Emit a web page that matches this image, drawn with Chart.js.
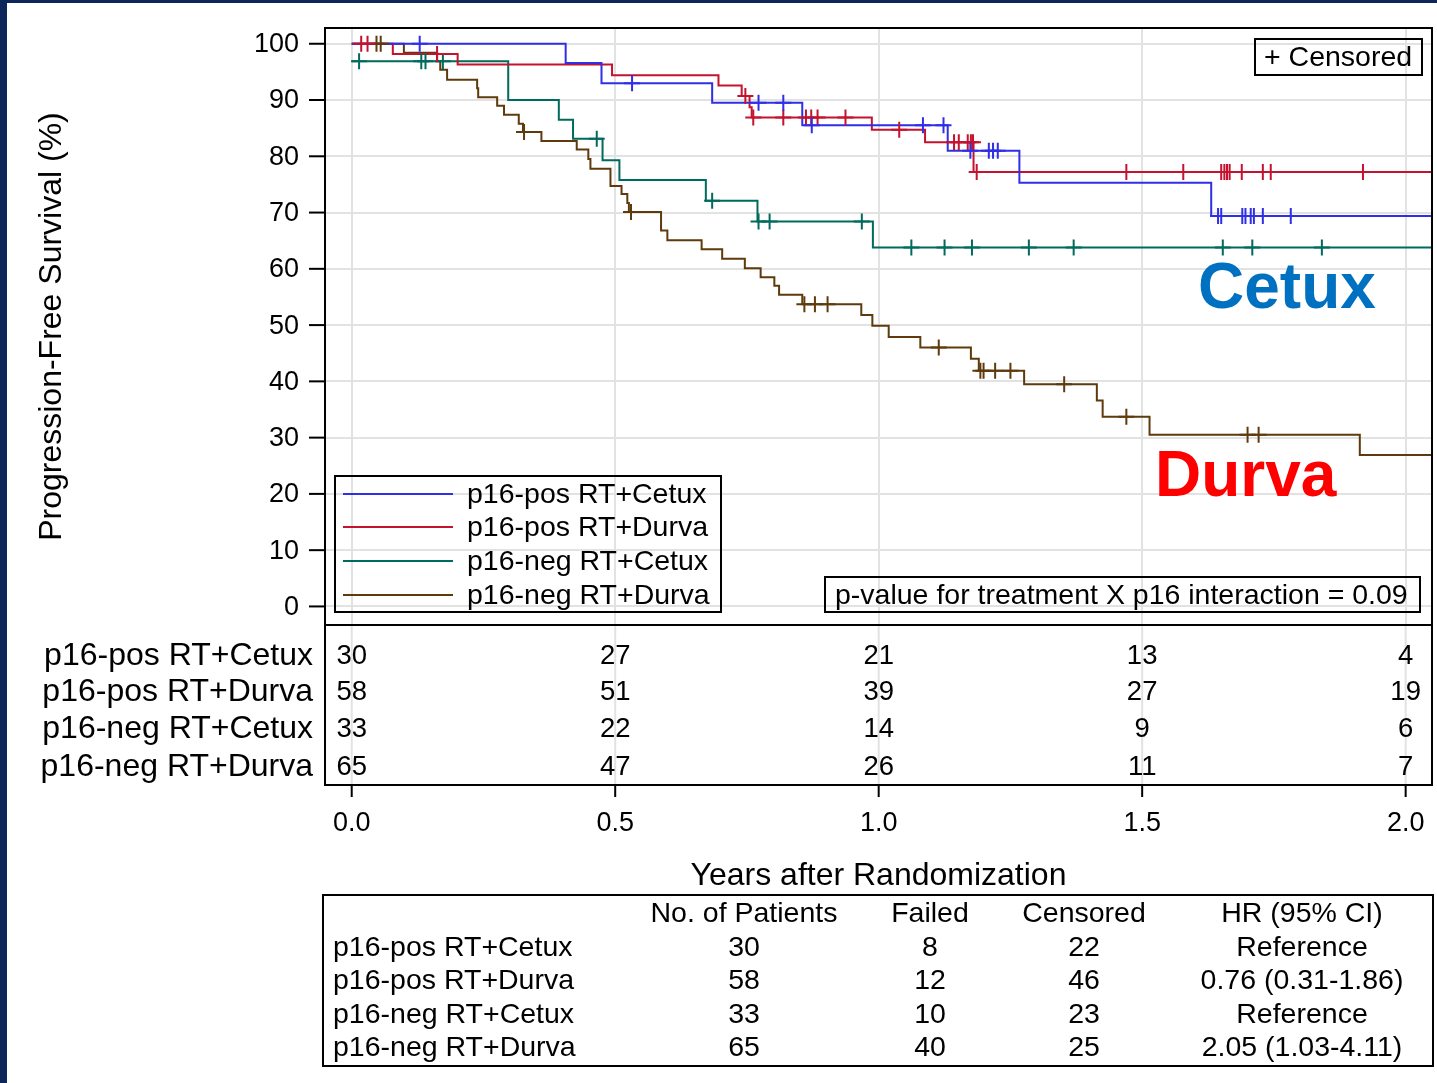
<!DOCTYPE html>
<html>
<head>
<meta charset="utf-8">
<script src="https://cdn.jsdelivr.net/npm/chart.js@4.4.1/dist/chart.umd.min.js"></script>
<style>
html,body{margin:0;padding:0;background:#fff;}
canvas{display:block;}
</style>
</head>
<body>
<canvas id="c" width="1437" height="1083"></canvas>
<script>
// ---------- DATA ----------
const groupLabels = ['p16-pos RT+Cetux', 'p16-pos RT+Durva', 'p16-neg RT+Cetux', 'p16-neg RT+Durva'];
const groupColors = ['#2f2fe6', '#c4122f', '#006a5c', '#5e3a0c'];

const timeTicks = [0, 0.5, 1.0, 1.5, 2.0];
const survTicks = [0, 10, 20, 30, 40, 50, 60, 70, 80, 90, 100];
const plotEndTime = 2.06;

// p16-pos RT+Cetux
const posCetuxTimes = [0, 0.406, 0.474, 0.684, 0.855, 1.131, 1.267, 1.631];
const posCetuxSurv  = [100, 96.6, 93.0, 89.5, 85.5, 81.0, 75.3, 69.4];
const posCetuxCens  = [0.129, 0.532, 0.772, 0.819, 0.873, 1.084, 1.123, 1.174, 1.209, 1.217, 1.226,
                       1.644, 1.650, 1.690, 1.696, 1.706, 1.712, 1.729, 1.782];
// p16-pos RT+Durva
const posDurvaTimes = [0, 0.078, 0.201, 0.494, 0.696, 0.740, 0.755, 0.759, 0.987, 1.088, 1.180];
const posDurvaSurv  = [100, 98.2, 96.3, 94.4, 92.6, 90.7, 88.7, 86.9, 84.7, 82.5, 77.2];
const posDurvaCens  = [0.018, 0.030, 0.162, 0.747, 0.762, 0.819, 0.862, 0.872, 0.884, 0.937, 1.039,
                       1.143, 1.152, 1.169, 1.175, 1.179, 1.186, 1.470, 1.578, 1.650, 1.656, 1.661,
                       1.666, 1.689, 1.729, 1.744, 1.919];
// p16-neg RT+Cetux
const negCetuxTimes = [0, 0.297, 0.393, 0.420, 0.476, 0.508, 0.672, 0.770, 0.989];
const negCetuxSurv  = [96.9, 90.0, 86.5, 83.1, 79.3, 75.8, 72.1, 68.4, 63.8];
const negCetuxCens  = [0.014, 0.132, 0.140, 0.173, 0.465, 0.684, 0.772, 0.793, 0.968, 1.062, 1.125,
                       1.177, 1.285, 1.370, 1.653, 1.709, 1.841];
// p16-neg RT+Durva
const negDurvaTimes = [0, 0.099, 0.162, 0.168, 0.181, 0.238, 0.240, 0.276, 0.289, 0.317, 0.325, 0.360,
                       0.427, 0.449, 0.453, 0.491, 0.512, 0.523, 0.526, 0.587, 0.599, 0.664, 0.703,
                       0.746, 0.776, 0.802, 0.811, 0.855, 0.967, 0.988, 1.019, 1.079, 1.175, 1.190,
                       1.276, 1.414, 1.425, 1.514, 1.913];
const negDurvaSurv  = [100, 98.4, 96.9, 95.4, 93.6, 92.1, 90.5, 89.0, 87.4, 85.8, 84.3, 82.7,
                       81.2, 79.5, 77.8, 74.7, 73.3, 71.7, 70.1, 66.8, 65.1, 63.5, 61.8,
                       60.1, 58.5, 57.0, 55.4, 53.7, 51.8, 49.9, 47.9, 46.0, 44.0, 41.9,
                       39.5, 36.6, 33.7, 30.5, 26.9];
const negDurvaCens  = [0.047, 0.055, 0.327, 0.530, 0.859, 0.879, 0.903, 1.114, 1.193, 1.199, 1.221,
                       1.250, 1.352, 1.470, 1.700, 1.721];

// Numbers at risk (at timeTicks)
const riskPosCetux = [30, 27, 21, 13, 4];
const riskPosDurva = [58, 51, 39, 27, 19];
const riskNegCetux = [33, 22, 14, 9, 6];
const riskNegDurva = [65, 47, 26, 11, 7];

// Summary table
const summaryHeaders = ['No. of Patients', 'Failed', 'Censored', 'HR (95% CI)'];
const summaryPatients = [30, 58, 33, 65];
const summaryFailed   = [8, 12, 10, 40];
const summaryCensored = [22, 46, 23, 25];
const summaryHR       = ['Reference', '0.76 (0.31-1.86)', 'Reference', '2.05 (1.03-4.11)'];

const pValueText = 'p-value for treatment X p16 interaction = 0.09';

// ---------- BUILD ----------
const curveTimes = [posCetuxTimes, posDurvaTimes, negCetuxTimes, negDurvaTimes];
const curveSurv = [posCetuxSurv, posDurvaSurv, negCetuxSurv, negDurvaSurv];
const curveCens = [posCetuxCens, posDurvaCens, negCetuxCens, negDurvaCens];
const riskRows = [riskPosCetux, riskPosDurva, riskNegCetux, riskNegDurva];

function stepAt(times, surv, t) {
  let v = surv[0];
  for (let i = 0; i < times.length; i++) { if (times[i] <= t) v = surv[i]; }
  return v;
}

const datasets = [];
for (let g = 0; g < 4; g++) {
  const pts = curveTimes[g].map((t, i) => ({x: t, y: curveSurv[g][i]}));
  pts.push({x: plotEndTime, y: curveSurv[g][curveSurv[g].length - 1]});
  datasets.push({
    label: groupLabels[g], data: pts, stepped: 'before',
    borderColor: groupColors[g], backgroundColor: groupColors[g],
    borderWidth: 2, pointRadius: 0, fill: false, order: 2
  });
}
for (let g = 0; g < 4; g++) {
  datasets.push({
    label: groupLabels[g] + ' censored',
    data: curveCens[g].map(t => ({x: t, y: stepAt(curveTimes[g], curveSurv[g], t)})),
    showLine: false, pointStyle: 'cross', pointRadius: 8, pointBorderWidth: 2,
    borderColor: groupColors[g], backgroundColor: groupColors[g], order: 1
  });
}

const FONT = '"Liberation Sans", Arial, Helvetica, sans-serif';
function txt(ctx, s, x, y, size, align, color, bold) {
  ctx.save();
  ctx.font = (bold ? 'bold ' : '') + size + 'px ' + FONT;
  ctx.fillStyle = color || '#000';
  ctx.textAlign = align || 'left';
  ctx.textBaseline = 'middle';
  ctx.fillText(s, x, y);
  ctx.restore();
}

const decor = {
  id: 'decor',
  beforeDraw(chart) {
    const ctx = chart.ctx;
    ctx.save();
    ctx.fillStyle = '#fff';
    ctx.fillRect(0, 0, chart.width, chart.height);
    ctx.fillStyle = '#0c2659';
    ctx.fillRect(0, 0, 7, chart.height);
    ctx.fillRect(0, 0, chart.width, 3);
    ctx.restore();
  },
  afterDraw(chart) {
    const ctx = chart.ctx;
    const xs = chart.scales.x, ys = chart.scales.y;
    const a = chart.chartArea;
    const riskTop = a.bottom, riskBottom = 785;
    ctx.save();
    // gridlines through the at-risk table
    ctx.strokeStyle = '#e2e2e2'; ctx.lineWidth = 2;
    timeTicks.forEach(t => {
      const x = xs.getPixelForValue(t);
      ctx.beginPath(); ctx.moveTo(x, riskTop); ctx.lineTo(x, riskBottom); ctx.stroke();
    });
    // frames
    ctx.strokeStyle = '#000'; ctx.lineWidth = 2;
    ctx.strokeRect(a.left, a.top, a.right - a.left, a.bottom - a.top);
    ctx.strokeRect(a.left, riskTop, a.right - a.left, riskBottom - riskTop);
    // y ticks
    survTicks.forEach(v => {
      const y = ys.getPixelForValue(v);
      ctx.beginPath(); ctx.moveTo(309, y); ctx.lineTo(a.left, y); ctx.stroke();
      txt(ctx, String(v), 299, y + 1, 27, 'right');
    });
    // x ticks
    timeTicks.forEach(t => {
      const x = xs.getPixelForValue(t);
      ctx.beginPath(); ctx.moveTo(x, riskBottom); ctx.lineTo(x, 797); ctx.stroke();
      txt(ctx, t.toFixed(1), x, 824, 27, 'center');
    });
    // axis titles
    txt(ctx, 'Years after Randomization', (a.left + a.right) / 2, 876, 32, 'center');
    ctx.save();
    ctx.translate(52, (a.top + a.bottom) / 2);
    ctx.rotate(-Math.PI / 2);
    txt(ctx, 'Progression-Free Survival (%)', 0, 0, 32, 'center');
    ctx.restore();
    // at-risk table
    const riskY = [656, 692, 729, 767];
    for (let g = 0; g < 4; g++) {
      txt(ctx, groupLabels[g], 313, riskY[g], 32, 'right');
      riskRows[g].forEach((n, i) => {
        txt(ctx, String(n), xs.getPixelForValue(timeTicks[i]), riskY[g], 27.5, 'center');
      });
    }
    // legend
    ctx.lineWidth = 2; ctx.strokeStyle = '#000';
    ctx.strokeRect(335, 476, 386, 136);
    const legY = [494, 527, 561, 595];
    for (let g = 0; g < 4; g++) {
      ctx.strokeStyle = chart.data.datasets[g].borderColor;
      ctx.beginPath(); ctx.moveTo(343, legY[g]); ctx.lineTo(453, legY[g]); ctx.stroke();
      txt(ctx, chart.data.datasets[g].label, 467, legY[g] + 1, 28.5, 'left');
    }
    // censored box
    ctx.strokeStyle = '#000';
    ctx.strokeRect(1255, 39, 167, 36);
    txt(ctx, '+ Censored', 1264, 58, 28.5, 'left');
    // p-value box
    ctx.strokeRect(825, 577, 595, 35);
    txt(ctx, pValueText, 835, 596, 28.5, 'left');
    // annotations
    txt(ctx, 'Cetux', 1198, 290, 64, 'left', '#0070c0', true);
    txt(ctx, 'Durva', 1155, 478, 64, 'left', '#ff0000', true);
    // summary table
    ctx.strokeStyle = '#000';
    ctx.strokeRect(323, 895, 1110, 171);
    const colX = [744, 930, 1084, 1302];
    summaryHeaders.forEach((h, i) => txt(ctx, h, colX[i], 914, 28.5, 'center'));
    const rowY = [948, 981, 1015, 1048];
    for (let g = 0; g < 4; g++) {
      txt(ctx, groupLabels[g], 333, rowY[g], 28.5, 'left');
      txt(ctx, String(summaryPatients[g]), colX[0], rowY[g], 28.5, 'center');
      txt(ctx, String(summaryFailed[g]), colX[1], rowY[g], 28.5, 'center');
      txt(ctx, String(summaryCensored[g]), colX[2], rowY[g], 28.5, 'center');
      txt(ctx, summaryHR[g], colX[3], rowY[g], 28.5, 'center');
    }
    ctx.restore();
  }
};

new Chart(document.getElementById('c').getContext('2d'), {
  type: 'line',
  data: { datasets },
  options: {
    responsive: false,
    animation: false,
    devicePixelRatio: 1,
    layout: { autoPadding: false, padding: { left: 325, top: 28, right: 5, bottom: 458 } },
    plugins: { legend: { display: false }, tooltip: { enabled: false } },
    scales: {
      x: {
        type: 'linear', min: -0.0507, max: 2.050,
        afterBuildTicks: s => { s.ticks = timeTicks.map(v => ({value: v})); },
        ticks: { display: false },
        grid: { color: '#e2e2e2', lineWidth: 2, drawTicks: false },
        border: { display: false }
      },
      y: {
        type: 'linear', min: -3.3, max: 102.8,
        afterBuildTicks: s => { s.ticks = survTicks.map(v => ({value: v})); },
        ticks: { display: false },
        grid: { color: '#e2e2e2', lineWidth: 2, drawTicks: false },
        border: { display: false }
      }
    }
  },
  plugins: [decor]
});
</script>
</body>
</html>
